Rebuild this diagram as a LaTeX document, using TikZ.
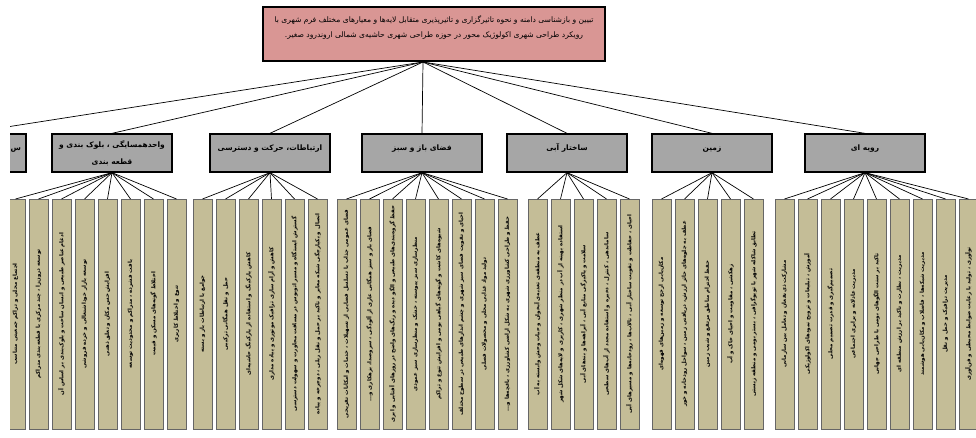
\documentclass[tikz,border=0pt]{standalone}
\usepackage{fontspec}
\usepackage{graphicx}
\usetikzlibrary{positioning}
\newfontfamily\arabicfont[Script=Arabic]{DejaVu Sans}
\TeXXeTstate=1
\newcommand{\fa}[1]{{\arabicfont\beginR #1\endR}}
\newcommand{\up}[1]{\rotatebox{90}{\fa{#1}}}

\definecolor{rootpink}{RGB}{217,150,148}
\definecolor{catgray}{RGB}{166,166,166}
\definecolor{leaftan}{RGB}{196,189,151}

\tikzset{
	rootbox/.style={draw, line width=2pt, fill=rootpink, minimum width=342pt, minimum height=54pt, align=center, font=\fontsize{7.6}{15}\selectfont},
	catbox/.style={draw, line width=1.3pt, fill=catgray, minimum width=120pt, minimum height=38pt, align=center, font=\fontsize{7.5}{17}\selectfont\bfseries},
	catone/.style={catbox, text height=4pt, text depth=9pt},
	leafbox/.style={draw=black!60, line width=0.8pt, fill=leaftan, minimum width=19pt, minimum height=230pt, inner sep=0pt, outer sep=0pt, font=\fontsize{5.45}{7}\selectfont\bfseries},
	edge/.style={line width=0.7pt}
}

\begin{document}
\begin{tikzpicture}[x=1pt, y=-1pt]
	\useasboundingbox (0,0) rectangle (976,438);
	\clip (10,0) rectangle (976,438);
	% root
	\node[rootbox] (root) at (434,34) {\fa{تبیین و بازشناسی دامنه و نحوه تاثیرگزاری و تاثیرپذیری متقابل لایه‌ها و معیارهای مختلف فرم شهری با}\\ \fa{رویکرد طراحی شهری اکولوژیک محور در حوزه طراحی شهری حاشیه‌ی شمالی اروندرود صغیر.}\\ \mbox{}};
	\coordinate (hub) at ([xshift=-11pt]root.south);
	% layers
	\node[catone, text width=110pt, align=right] (cut) at (-34,153) {\fa{س}};
	\node[catbox] (nbhd) at (112,153) {\fa{واحدهمسایگی ، بلوک بندی و}\\ \fa{قطعه بندی}};
	\node[catone] (move) at (270,153) {\fa{ارتباطات، حرکت و دسترسی}};
	\node[catone] (green) at (422,153) {\fa{فضای باز و سبز}};
	\node[catone] (water) at (567,153) {\fa{ساختار آبی}};
	\node[catone] (land) at (712,153) {\fa{زمین}};
	\node[catone] (proc) at (865,153) {\fa{رویه ای}};
	\foreach \c in {cut,nbhd,move,green,water,land,proc}
		\draw[edge] (hub) -- (\c.north);
	% criteria
	\node[leafbox, anchor=north west] (nbhd1) at (6,199) {\up{اجتماع محلی و تراکم جمعیتی متناسب}};
	\node[leafbox, right=4pt of nbhd1] (nbhd2) {\up{توسعه درون‌زا ، چند مرکزی با قطعه‌بندی متراکم}};
	\node[leafbox, right=4pt of nbhd2] (nbhd3) {\up{ادغام عناصر طبیعی و انسان ساخت و بلوک‌بندی بر اساس آن}};
	\node[leafbox, right=4pt of nbhd3] (nbhd4) {\up{توسعه بازار خوداشتغالی و خرده فروشی}};
	\node[leafbox, right=4pt of nbhd4] (nbhd5) {\up{افزایش حس مکان و تعلق ذهنی}};
	\node[leafbox, right=4pt of nbhd5] (nbhd6) {\up{بافت فشرده ، متراکم و محدودیت توسعه}};
	\node[leafbox, right=4pt of nbhd6] (nbhd7) {\up{اختلاط گونه‌های مسکن و قیمت}};
	\node[leafbox, right=4pt of nbhd7] (nbhd8) {\up{تنوع و اختلاط کاربری}};

	\node[leafbox, anchor=north west] (move1) at (193,199) {\up{جوامع با ارتباطات باز و بسته}};
	\node[leafbox, right=4pt of move1] (move2) {\up{حمل و نقل همگانی ترکیبی}};
	\node[leafbox, right=4pt of move2] (move3) {\up{کاهش پارکینگ و استفاده از پارکینگ حاشیه‌ای}};
	\node[leafbox, right=4pt of move3] (move4) {\up{کاهش و آرام سازی ترافیک موتوری و پیاده مداری}};
	\node[leafbox, right=4pt of move4] (move5) {\up{گسترش ایستگاه و مسیر اتوبوس در مسافت مجاورت و سهولت دسترسی}};
	\node[leafbox, right=4pt of move5] (move6) {\up{اتصال و یکپارچگی شبکه معابر و تاکید بر حمل و نقل ریلی ، دوچرخه و پیاده}};

	\node[leafbox, anchor=north west] (green1) at (337,199) {\up{فضای عمومی جذاب با تسلسل فضایی از تسهیلات ، خدمات و امکانات تفریحی}};
	\node[leafbox, right=4pt of green1] (green2) {\up{فضای باز و سبز همگانی عاری از آلودگی ، سروصدا، بزهکاری و...}};
	\node[leafbox, right=4pt of green2] (green3) {\up{حفظ گروه‌بندی‌های طبیعی و الگو دیده و رنگ‌های واضح در روزهای آفتابی و ابری}};
	\node[leafbox, right=4pt of green3] (green4) {\up{منظرسازی سبز پیوسته ، خشک و منظرسازی سبز عمودی}};
	\node[leafbox, right=4pt of green4] (green5) {\up{شیوه‌های کاشت و گونه‌های گیاهی بومی و افزایش تنوع و تراکم}};
	\node[leafbox, right=4pt of green5] (green6) {\up{احیای و تقویت فضای سبز شهری و چشم اندازهای طبیعی در سطوح مختلف}};
	\node[leafbox, right=4pt of green6] (green7) {\up{تولید مواد غذایی محلی و محصولات فصلی}};
	\node[leafbox, right=4pt of green7] (green8) {\up{حفظ و طراحی کشاورزی شهری به شکل اراضی کشاورزی ، باغچه‌ها و...}};

	\node[leafbox, anchor=north west] (water1) at (528,199) {\up{عطف به منطقه‌ی تغذیه‌ی آبخوان و حیات وحش وابسته به آب}};
	\node[leafbox, right=4pt of water1] (water2) {\up{استفاده بهینه از آب در منظر شهری ، کاربری و لایه‌های شکل شهر}};
	\node[leafbox, right=4pt of water2] (water3) {\up{سلامت و پاکیزگی منابع آبی ، آبراهه‌ها و بندهای آبی}};
	\node[leafbox, right=4pt of water3] (water4) {\up{ساماندهی ، کنترل ، ذخیره و استفاده مجدد از آب‌های سطحی}};
	\node[leafbox, right=4pt of water4] (water5) {\up{احیای ، حفاظت و تقویت ساختار آبی ، تالاب‌ها ، رودخانه‌ها و مسیرهای آبی}};

	\node[leafbox, anchor=north west] (land1) at (652,199) {\up{مکان‌یابی ارجح توسعه و زمین‌های قهوه‌ای}};
	\node[leafbox, right=4pt of land1] (land2) {\up{عطف به جلوه‌های حائز ارزش، دریافتی زمین ، سواحل رودخانه و خور}};
	\node[leafbox, right=4pt of land2] (land3) {\up{حفظ احترام مناطق مرتفع و شیب زمین}};
	\node[leafbox, right=4pt of land3] (land4) {\up{زهکشی ، مقاومت و احیای خاک و آب}};
	\node[leafbox, right=4pt of land4] (land5) {\up{تطابق شاکله شهر با توپوگرافی ، بستر بومی و منطقه زیستی}};

	\node[leafbox, anchor=north west] (proc1) at (775,199) {\up{مشارکت ذی‌نفعان و تعامل بین سازمانی}};
	\node[leafbox, right=4pt of proc1] (proc2) {\up{آموزش ، تبلیغات و ترویج نمودهای اکولوژیکی}};
	\node[leafbox, right=4pt of proc2] (proc3) {\up{تصمیم‌گیری و قدرت تصمیم محلی}};
	\node[leafbox, right=4pt of proc3] (proc4) {\up{مدیریت عادلانه و برابری اجتماعی}};
	\node[leafbox, right=4pt of proc4] (proc5) {\up{تاکید بر سنت الگوهای بومی با طراحی جهانی}};
	\node[leafbox, right=4pt of proc5] (proc6) {\up{مدیریت ، نظارت و تاکید بر ارزش منطقه ای}};
	\node[leafbox, right=4pt of proc6] (proc7) {\up{مدیریت شبکه‌ها ، فاضلاب و مکان‌یابی هوشمند}};
	\node[leafbox, right=4pt of proc7] (proc8) {\up{مدیریت ترافیک و حمل و نقل}};
	\node[leafbox, right=4pt of proc8] (proc9) {\up{نوآوری ، تولید با رعایت ضوابط محیطی و فن‌آوری}};

	\foreach \i in {1,...,8} \draw[edge] (nbhd.south) -- (nbhd\i.north);
	\foreach \i in {1,...,6} \draw[edge] (move.south) -- (move\i.north);
	\foreach \i in {1,...,8} \draw[edge] (green.south) -- (green\i.north);
	\foreach \i in {1,...,5} \draw[edge] (water.south) -- (water\i.north);
	\foreach \i in {1,...,5} \draw[edge] (land.south) -- (land\i.north);
	\foreach \i in {1,...,9} \draw[edge] (proc.south) -- (proc\i.north);
\end{tikzpicture}
\end{document}
